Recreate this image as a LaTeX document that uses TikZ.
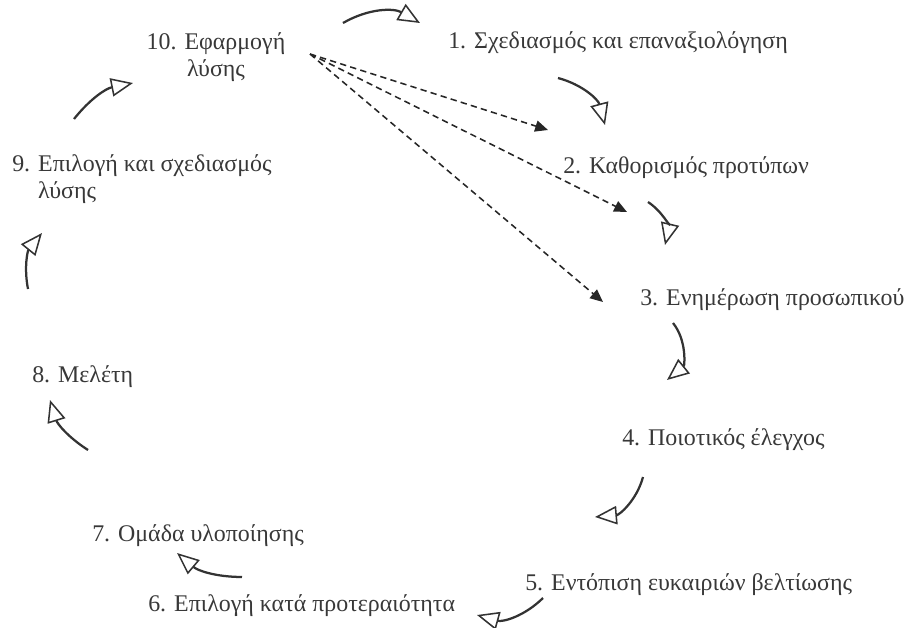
\documentclass[tikz,border=0pt]{standalone}
\usepackage{fontspec}
\setmainfont{Liberation Serif}
\usetikzlibrary{arrows.meta}

\tikzset{
  steptext/.style={font=\fontsize{17}{19.5}\selectfont, text=black!78, inner sep=0pt},
  cyclearrow/.style={line width=1.6pt, draw=black!80,
    -{Triangle[open, length=5.5mm, width=4.6mm, line width=1.1pt]}},
  feedback/.style={line width=1.1pt, draw=black!85, dash pattern=on 4.5pt off 3pt,
    -{Triangle[length=3.2mm, width=2.8mm]}}
}

\begin{document}
\begin{tikzpicture}[x=0.025cm, y=-0.025cm]
    \useasboundingbox (0,0) rectangle (910,627);

    % Draw the steps of the cycle
    \node[steptext, anchor=west] (s1) at (448,43) {1. Σχεδιασμός και επαναξιολόγηση};
    \node[steptext, anchor=west] (s2) at (563,168) {2. Καθορισμός προτύπων};
    \node[steptext, anchor=west] (s3) at (640,300) {3. Ενημέρωση προσωπικού};
    \node[steptext, anchor=west] (s4) at (622,440) {4. Ποιοτικός έλεγχος};
    \node[steptext, anchor=west] (s5) at (525,585) {5. Εντόπιση ευκαιριών βελτίωσης};
    \node[steptext, anchor=west] (s6) at (148,606) {6. Επιλογή κατά προτεραιότητα};
    \node[steptext, anchor=west] (s7) at (92,536) {7. Ομάδα υλοποίησης};
    \node[steptext, anchor=west] (s8) at (32,377) {8. Μελέτη};
    \node[steptext, anchor=west, align=left] (s9) at (12,179) {9. Επιλογή και σχεδιασμός\\\hphantom{9. }λύσης};
    \node[steptext, align=center] (s10) at (216,57) {10. Εφαρμογή\\λύσης};

    % Ends of the curved arrows
    \coordinate (a1s) at (343,23);  \coordinate (a1e) at (420,23);
    \coordinate (a2s) at (558,78);  \coordinate (a2e) at (605,125);
    \coordinate (a3s) at (648,202); \coordinate (a3e) at (665,245);
    \coordinate (a4s) at (673,323); \coordinate (a4e) at (667,380);
    \coordinate (a5s) at (643,477); \coordinate (a5e) at (595,517);
    \coordinate (a6s) at (543,598); \coordinate (a6e) at (477,615);
    \coordinate (a7s) at (242,577); \coordinate (a7e) at (177,553);
    \coordinate (a8s) at (88,450);  \coordinate (a8e) at (50,400);
    \coordinate (a9s) at (28,289);  \coordinate (a9e) at (42,233);
    \coordinate (a10s) at (74,119); \coordinate (a10e) at (133,83);

    % Draw the cycle
    \draw[cyclearrow] (a1s) to[bend left=30] (a1e);
    \draw[cyclearrow] (a2s) to[bend left=30] (a2e);
    \draw[cyclearrow] (a3s) to[bend left=35] (a3e);
    \draw[cyclearrow] (a4s) to[bend left=45] (a4e);
    \draw[cyclearrow] (a5s) to[bend left=35] (a5e);
    \draw[cyclearrow] (a6s) to[bend left=30] (a6e);
    \draw[cyclearrow] (a7s) to[bend left=20] (a7e);
    \draw[cyclearrow] (a8s) to[bend left=20] (a8e);
    \draw[cyclearrow] (a9s) to[bend left=25] (a9e);
    \draw[cyclearrow] (a10s) to[bend left=20] (a10e);

    % Draw the feedback from step 10
    \coordinate (fb) at (310,54);
    \coordinate (fb1) at (548,130);
    \coordinate (fb2) at (627,212);
    \coordinate (fb3) at (603,302);
    \draw[feedback] (fb) -- (fb1);
    \draw[feedback] (fb) -- (fb2);
    \draw[feedback] (fb) -- (fb3);

\end{tikzpicture}
\end{document}
